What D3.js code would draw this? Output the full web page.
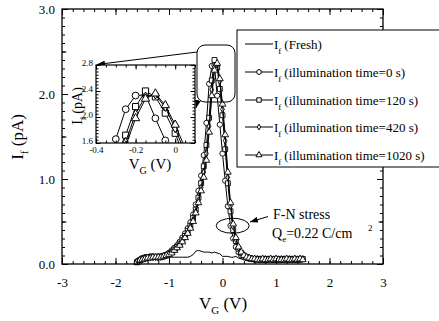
<!DOCTYPE html>
<html>
<head>
<meta charset="utf-8">
<script src="https://cdn.jsdelivr.net/npm/d3@7/dist/d3.min.js"></script>
<style>
  body { margin: 0; background: #fff; }
  svg text { font-family: "Liberation Serif", "Times New Roman", serif; fill: #000; }
</style>
</head>
<body>
<svg id="chart" width="439" height="321"></svg>
<script>
// gate voltage (V), one point every 50 mV
const vg = [-1.6, -1.55, -1.5, -1.45, -1.4, -1.35, -1.3, -1.25, -1.2, -1.15,
  -1.1, -1.05, -1.0, -0.95, -0.9, -0.85, -0.8, -0.75, -0.7, -0.65,
  -0.6, -0.55, -0.5, -0.45, -0.4, -0.35, -0.3, -0.25, -0.2, -0.15,
  -0.1, -0.05, 0, 0.05, 0.1, 0.15, 0.2, 0.25, 0.3, 0.35,
  0.4, 0.45, 0.5, 0.55, 0.6, 0.65, 0.7, 0.75, 0.8, 0.85,
  0.9, 0.95, 1.0, 1.05, 1.1, 1.15, 1.2, 1.25, 1.3, 1.35,
  1.4, 1.45, 1.5];

// If (pA)
const fresh = [0.00, 0.03, 0.05, 0.06, 0.07, 0.07, 0.08, 0.08, 0.08, 0.08,
  0.08, 0.08, 0.08, 0.08, 0.08, 0.08, 0.08, 0.08, 0.08, 0.08,
  0.09, 0.11, 0.15, 0.16, 0.15, 0.14, 0.14, 0.14, 0.13, 0.14,
  0.13, 0.12, 0.09, 0.09, 0.09, 0.08, 0.08, 0.09, 0.07, 0.06,
  0.06, 0.05, 0.05, 0.05, 0.05, 0.05, 0.05, 0.05, 0.05, 0.05,
  0.05, 0.05, 0.05, 0.05, 0.05, 0.05, 0.05, 0.05, 0.05, 0.05,
  0.05, 0.05, 0.05];
const illum0 = [0.03, 0.05, 0.07, 0.08, 0.08, 0.09, 0.09, 0.08, 0.09, 0.09,
  0.10, 0.11, 0.13, 0.16, 0.19, 0.22, 0.26, 0.31, 0.36, 0.42,
  0.49, 0.58, 0.70, 0.86, 1.04, 1.28, 1.66, 2.12, 2.33, 2.34,
  1.98, 1.64, 1.30, 0.98, 0.68, 0.45, 0.30, 0.20, 0.14, 0.10,
  0.08, 0.07, 0.06, 0.06, 0.05, 0.06, 0.05, 0.06, 0.05, 0.05,
  0.06, 0.05, 0.05, 0.06, 0.05, 0.06, 0.05, 0.05, 0.06, 0.05,
  0.05, 0.06, 0.06];
const illum120 = [0.02, 0.04, 0.06, 0.07, 0.08, 0.08, 0.08, 0.08, 0.08, 0.08,
  0.09, 0.10, 0.12, 0.14, 0.17, 0.20, 0.24, 0.28, 0.33, 0.39,
  0.45, 0.54, 0.64, 0.78, 0.95, 1.15, 1.40, 1.72, 2.16, 2.40,
  2.31, 2.06, 1.75, 1.35, 0.95, 0.62, 0.40, 0.27, 0.18, 0.13,
  0.10, 0.08, 0.07, 0.06, 0.06, 0.05, 0.06, 0.05, 0.05, 0.06,
  0.05, 0.05, 0.06, 0.05, 0.05, 0.06, 0.05, 0.06, 0.05, 0.05,
  0.06, 0.05, 0.06];
const illum420 = [0.03, 0.04, 0.06, 0.07, 0.07, 0.08, 0.08, 0.08, 0.07, 0.08,
  0.09, 0.10, 0.12, 0.14, 0.16, 0.19, 0.23, 0.27, 0.32, 0.37,
  0.44, 0.52, 0.62, 0.75, 0.90, 1.08, 1.30, 1.62, 2.05, 2.32,
  2.34, 2.15, 1.82, 1.45, 1.02, 0.68, 0.44, 0.29, 0.19, 0.13,
  0.10, 0.08, 0.07, 0.06, 0.05, 0.06, 0.05, 0.05, 0.06, 0.05,
  0.06, 0.05, 0.05, 0.05, 0.06, 0.05, 0.05, 0.06, 0.05, 0.06,
  0.05, 0.05, 0.06];
const illum1020 = [0.02, 0.04, 0.05, 0.06, 0.07, 0.07, 0.08, 0.08, 0.08, 0.08,
  0.09, 0.10, 0.11, 0.13, 0.16, 0.19, 0.22, 0.26, 0.31, 0.36,
  0.42, 0.50, 0.60, 0.72, 0.86, 1.02, 1.22, 1.55, 1.98, 2.28,
  2.36, 2.18, 1.88, 1.52, 1.08, 0.72, 0.47, 0.31, 0.20, 0.14,
  0.10, 0.08, 0.07, 0.06, 0.06, 0.05, 0.05, 0.06, 0.05, 0.05,
  0.06, 0.05, 0.06, 0.05, 0.05, 0.05, 0.06, 0.05, 0.05, 0.06,
  0.05, 0.06, 0.05];

const legendLabels = ['(Fresh)', '(illumination time=0 s)', '(illumination time=120 s)',
  '(illumination time=420 s)', '(illumination time=1020 s)'];
const xTicks = [-3, -2, -1, 0, 1, 2, 3];
const yTicks = [0, 1, 2, 3];
const insetXTicks = [-0.4, -0.2, 0];
const insetYTicks = [1.6, 2.0, 2.4, 2.8];

const svg = d3.select('#chart');
const font = '"Liberation Serif", "Times New Roman", serif';

svg.append('rect').attr('width', 439).attr('height', 321).attr('fill', '#fff');

const defs = svg.append('defs');
defs.append('marker')
  .attr('id', 'arrow')
  .attr('viewBox', '0 0 8 6')
  .attr('refX', 8).attr('refY', 3)
  .attr('markerWidth', 8).attr('markerHeight', 6)
  .attr('markerUnits', 'userSpaceOnUse')
  .attr('orient', 'auto')
  .append('path').attr('d', 'M0,0L8,3L0,6Z').attr('fill', '#000');

const x = d3.scaleLinear().domain([-3, 3]).range([62, 383]);
const y = d3.scaleLinear().domain([0, 3]).range([264, 9]);

const xi = d3.scaleLinear().domain([-0.4, 0.1]).range([96, 195]);
const yi = d3.scaleLinear().domain([1.6, 2.8]).range([143, 65]);

defs.append('clipPath').attr('id', 'insetClip')
  .append('rect').attr('x', 96).attr('y', 65).attr('width', 99).attr('height', 78);

// inward ticks, labels optional
function drawTicks(axisFn, scale, values, size, transform, fmt, pad, fontSize) {
  const a = axisFn(scale).tickValues(values).tickSizeInner(-size).tickSizeOuter(0)
    .tickPadding(pad || 0).tickFormat(fmt || (() => ''));
  const g = svg.append('g').attr('transform', transform).call(a);
  g.select('.domain').remove();
  g.attr('font-family', font).attr('font-size', fontSize || 13);
  g.selectAll('line').attr('stroke', '#000');
  return g;
}

const series = [
  { values: illum0, symbol: d3.symbolCircle, size: 22, insetSize: 36 },
  { values: illum120, symbol: d3.symbolSquare, size: 24, insetSize: 38 },
  { values: illum420, symbol: d3.symbolDiamond, size: 12, insetSize: 20 },
  { values: illum1020, symbol: d3.symbolTriangle, size: 20, insetSize: 30 }
];

// ---- main plot data
const line = d3.line().x((d, i) => x(vg[i])).y(d => y(d));

svg.append('path')
  .attr('d', line(fresh))
  .attr('fill', 'none').attr('stroke', '#000').attr('stroke-width', 1);

series.forEach(s => {
  svg.append('path')
    .attr('d', line(s.values))
    .attr('fill', 'none').attr('stroke', '#000').attr('stroke-width', 1);
  svg.append('g').selectAll('path')
    .data(s.values)
    .enter().append('path')
    .attr('d', d3.symbol().type(s.symbol).size(s.size))
    .attr('transform', (d, i) => 'translate(' + x(vg[i]) + ',' + y(d) + ')')
    .attr('fill', '#fff').attr('stroke', '#000').attr('stroke-width', 0.9);
});

// ---- main axes
const xMinor = d3.range(-3, 3.001, 0.2);
const yMinor = d3.range(0, 3.001, 0.1);
const yMid = [0.5, 1.5, 2.5];

drawTicks(d3.axisBottom, x, xMinor, 3, 'translate(0,264)');
drawTicks(d3.axisBottom, x, xTicks, 6, 'translate(0,264)', d => String(d), 14);
drawTicks(d3.axisTop, x, xMinor, 3, 'translate(0,9)');
drawTicks(d3.axisTop, x, xTicks, 6, 'translate(0,9)');
drawTicks(d3.axisLeft, y, yMinor, 3, 'translate(62,0)');
drawTicks(d3.axisLeft, y, yMid, 4.5, 'translate(62,0)');
drawTicks(d3.axisLeft, y, yTicks, 6, 'translate(62,0)', d => d.toFixed(1), 7);
drawTicks(d3.axisRight, y, yMinor, 3, 'translate(383,0)');
drawTicks(d3.axisRight, y, yMid, 4.5, 'translate(383,0)');
drawTicks(d3.axisRight, y, yTicks, 6, 'translate(383,0)');

svg.append('rect')
  .attr('x', 62).attr('y', 9).attr('width', 321).attr('height', 255)
  .attr('fill', 'none').attr('stroke', '#000').attr('stroke-width', 1.3);

// axis titles with subscripts
function subText(tx, ty, rot, main, sub, rest, size, subSize, shift) {
  const t = svg.append('text')
    .attr('transform', 'translate(' + tx + ',' + ty + ')' + (rot ? ' rotate(' + rot + ')' : ''))
    .attr('text-anchor', 'middle')
    .attr('font-size', size);
  t.append('tspan').text(main);
  t.append('tspan').attr('font-size', subSize).attr('dy', shift).text(sub);
  t.append('tspan').attr('dy', -shift).text(rest);
  return t;
}

subText(23, 137, -90, 'I', 'f', ' (pA)', 17, 11, 5);
subText(223, 309, 0, 'V', 'G', ' (V)', 17, 11, 5);

// ---- legend
const legendRows = [44, 72, 100, 127, 155];
const legend = svg.append('g');
legend.append('rect')
  .attr('x', 237).attr('y', 30).attr('width', 220).attr('height', 137)
  .attr('fill', '#fff').attr('stroke', '#000').attr('stroke-width', 1);

legendLabels.forEach((label, i) => {
  const ly = legendRows[i];
  legend.append('line')
    .attr('x1', 245).attr('x2', 273).attr('y1', ly).attr('y2', ly)
    .attr('stroke', '#000').attr('stroke-width', 1);
  if (i > 0) {
    const s = series[i - 1];
    legend.append('path')
      .attr('d', d3.symbol().type(s.symbol).size(s.size * 0.8))
      .attr('transform', 'translate(259,' + ly + ')')
      .attr('fill', '#fff').attr('stroke', '#000').attr('stroke-width', 1);
  }
  const t = legend.append('text')
    .attr('x', 274).attr('y', ly + 4.5)
    .attr('font-size', 13);
  t.append('tspan').text('I');
  t.append('tspan').attr('font-size', 9).attr('dy', 5).text('f');
  t.append('tspan').attr('dy', -5).attr('dx', 3).text(label);
});

// ---- zoom marker and connectors
svg.append('rect')
  .attr('x', 197).attr('y', 45).attr('width', 38).attr('height', 57).attr('rx', 8)
  .attr('fill', 'none').attr('stroke', '#000').attr('stroke-width', 1);
svg.append('line')
  .attr('x1', 197).attr('y1', 52).attr('x2', 97).attr('y2', 64.5)
  .attr('stroke', '#000').attr('stroke-width', 1).attr('marker-end', 'url(#arrow)');
svg.append('path')
  .attr('d', 'M198,100 Q197,104 196,108')
  .attr('fill', 'none').attr('stroke', '#000').attr('stroke-width', 1)
  .attr('marker-end', 'url(#arrow)');

// ---- inset
svg.append('rect')
  .attr('x', 96).attr('y', 65).attr('width', 99).attr('height', 78)
  .attr('fill', '#fff');

const insetLine = d3.line().x((d, i) => xi(vg[i])).y(d => yi(d));
const insetG = svg.append('g').attr('clip-path', 'url(#insetClip)');
series.forEach(s => {
  insetG.append('path')
    .attr('d', insetLine(s.values))
    .attr('fill', 'none').attr('stroke', '#000').attr('stroke-width', 1);
  insetG.append('g').selectAll('path')
    .data(s.values.map((d, i) => [vg[i], d]).filter(p => p[0] >= -0.4 && p[0] <= 0.1 && p[1] >= 1.55))
    .enter().append('path')
    .attr('d', d3.symbol().type(s.symbol).size(s.insetSize))
    .attr('transform', p => 'translate(' + xi(p[0]) + ',' + yi(p[1]) + ')')
    .attr('fill', '#fff').attr('stroke', '#000').attr('stroke-width', 1);
});

const xiMinor = d3.range(-0.4, 0.101, 0.05);
const yiMinor = d3.range(1.6, 2.801, 0.05);
drawTicks(d3.axisBottom, xi, xiMinor, 2.5, 'translate(0,143)');
drawTicks(d3.axisBottom, xi, insetXTicks, 4.5, 'translate(0,143)',
  d => (d === 0 ? '0' : d.toFixed(1)), 4, 9);
drawTicks(d3.axisTop, xi, xiMinor, 2.5, 'translate(0,65)');
drawTicks(d3.axisTop, xi, insetXTicks, 4.5, 'translate(0,65)');
drawTicks(d3.axisLeft, yi, yiMinor, 2.5, 'translate(96,0)');
drawTicks(d3.axisLeft, yi, insetYTicks, 4.5, 'translate(96,0)', d => d.toFixed(1), 3, 9)
  .selectAll('text').attr('dy', '0.1em');
drawTicks(d3.axisRight, yi, yiMinor, 2.5, 'translate(195,0)');
drawTicks(d3.axisRight, yi, insetYTicks, 4.5, 'translate(195,0)');

svg.append('rect')
  .attr('x', 96).attr('y', 65).attr('width', 99).attr('height', 78)
  .attr('fill', 'none').attr('stroke', '#000').attr('stroke-width', 1.2);

subText(82, 106, -90, 'I', 'f', ' (pA)', 14, 9, 4);
subText(150, 169, 0, 'V', 'G', ' (V)', 15, 10, 5);

// ---- F-N stress annotation
svg.append('ellipse')
  .attr('cx', x(0.19)).attr('cy', y(0.45)).attr('rx', 16.5).attr('ry', 7.5)
  .attr('fill', 'none').attr('stroke', '#000').attr('stroke-width', 1);
svg.append('line')
  .attr('x1', 268).attr('y1', 216.5).attr('x2', 250).attr('y2', 222)
  .attr('stroke', '#000').attr('stroke-width', 1).attr('marker-end', 'url(#arrow)');

svg.append('text').attr('x', 273).attr('y', 219).attr('font-size', 14).text('F-N stress');
const q = svg.append('text').attr('x', 272).attr('y', 238).attr('font-size', 14);
q.append('tspan').text('Q');
q.append('tspan').attr('font-size', 9).attr('dy', 4).text('e');
q.append('tspan').attr('dy', -4).text('=0.22 C/cm');
svg.append('text').attr('x', 368).attr('y', 231).attr('font-size', 9).text('2');
</script>
</body>
</html>
